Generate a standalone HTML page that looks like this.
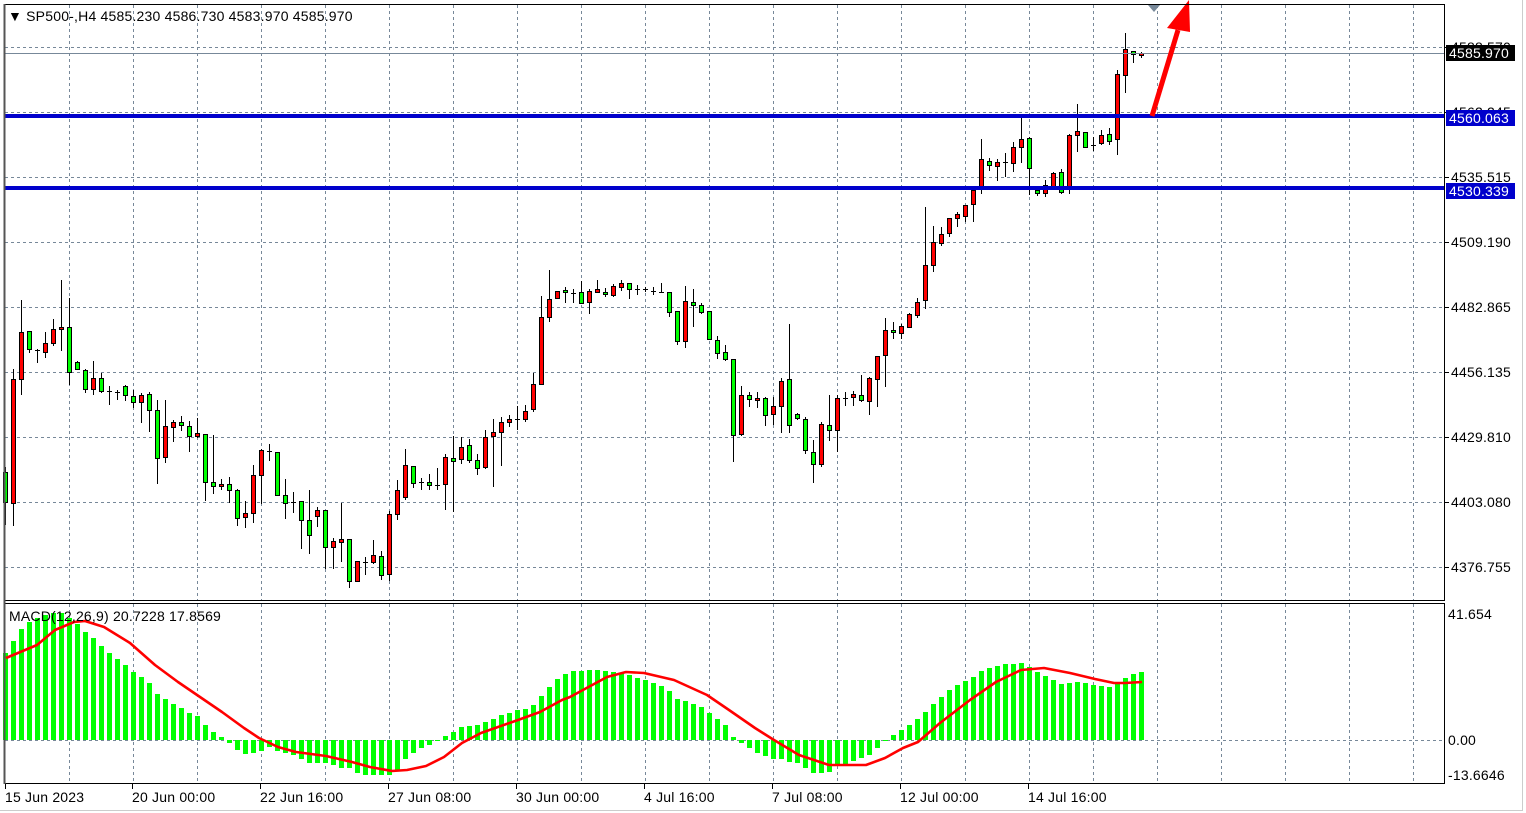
<!DOCTYPE html>
<html><head><meta charset="utf-8"><style>
html,body{margin:0;padding:0;background:#fff;width:1526px;height:813px;overflow:hidden}
svg{display:block}
text{font-family:"Liberation Sans","DejaVu Sans",sans-serif;font-size:14px;letter-spacing:0.2px;fill:#000}
</style></head><body>
<svg id="s" width="1526" height="813" xmlns="http://www.w3.org/2000/svg">
<rect x="0" y="0" width="1526" height="813" fill="#fff"/>
<line x1="1522.5" y1="0" x2="1522.5" y2="811" stroke="#ccc"/>
<line x1="0" y1="810.5" x2="1523" y2="810.5" stroke="#ccc"/>
<g id="grid"></g>
<g id="hist"></g>
<g id="candles"></g>
<polyline id="sig" fill="none" stroke="#ff0000" stroke-width="2.6" stroke-linejoin="round"/>
<line x1="5" y1="53.5" x2="1445" y2="53.5" stroke="#778899" stroke-width="1"/>
<rect x="5" y="114" width="1440" height="4" fill="#0000cc"/>
<rect x="5" y="186" width="1440" height="4" fill="#0000cc"/>
<polygon points="1148,5 1160,5 1154,12" fill="#778899"/>
<line x1="1152" y1="116" x2="1178" y2="30" stroke="#ff0000" stroke-width="5"/>
<polygon points="1167,28 1190,32 1189,0" fill="#ff0000"/>
<rect x="4.5" y="4.5" width="1440" height="596" fill="none" stroke="#000"/>
<rect x="4.5" y="603.5" width="1440" height="180" fill="none" stroke="#000"/>
<line x1="4.5" y1="4" x2="4.5" y2="784" stroke="#555" stroke-width="2"/>
<g id="labels"></g>
<text x="8" y="21">▼ SP500-,H4  4585.230 4586.730 4583.970 4585.970</text>
<text x="9" y="621">MACD(12,26,9) 20.7228 17.8569</text>
<rect x="1446" y="45" width="69" height="16" fill="#000"/>
<text x="1449" y="58" style="fill:#fff">4585.970</text>
<rect x="1446" y="110" width="69" height="16" fill="#0000cc"/>
<text x="1449" y="123" style="fill:#fff">4560.063</text>
<rect x="1446" y="183" width="69" height="16" fill="#0000cc"/>
<text x="1449" y="196" style="fill:#fff">4530.339</text>
</svg>
<script>
var NS="http://www.w3.org/2000/svg";
function el(p,t,a,txt){var e=document.createElementNS(NS,t);for(var k in a)e.setAttribute(k,a[k]);if(txt!==undefined)e.textContent=txt;document.getElementById(p).appendChild(e);return e;}
for(var x=69;x<=1413;x+=64){
 el("grid","line",{x1:x+.5,y1:5,x2:x+.5,y2:600,stroke:"#778899","stroke-dasharray":"3,3"});
 el("grid","line",{x1:x+.5,y1:604,x2:x+.5,y2:783,stroke:"#778899","stroke-dasharray":"3,3"});
}
var hy=[47,112,177,242,307,372,437,502,567];
var hl=["4588.570","4562.245","4535.515","4509.190","4482.865","4456.135","4429.810","4403.080","4376.755"];
for(var i=0;i<hy.length;i++){
 el("grid","line",{x1:5,y1:hy[i]+.5,x2:1444,y2:hy[i]+.5,stroke:"#778899","stroke-dasharray":"3,3"});
 el("labels","line",{x1:1445,y1:hy[i]+.5,x2:1449,y2:hy[i]+.5,stroke:"#000"});
 el("labels","text",{x:1451,y:hy[i]+5},hl[i]);
}
el("grid","line",{x1:5,y1:740.5,x2:1444,y2:740.5,stroke:"#778899","stroke-dasharray":"3,3"});
el("labels","text",{x:1448,y:619},"41.654");
el("labels","text",{x:1448,y:745},"0.00");
el("labels","text",{x:1448,y:780},"-13.6646");
var dl=[[5,"15 Jun 2023"],[132,"20 Jun 00:00"],[260,"22 Jun 16:00"],[388,"27 Jun 08:00"],[516,"30 Jun 00:00"],[644,"4 Jul 16:00"],[772,"7 Jul 08:00"],[900,"12 Jul 00:00"],[1028,"14 Jul 16:00"]];
dl.forEach(function(d){el("labels","text",{x:d[0],y:802},d[1]);el("labels","line",{x1:d[0]+.5,y1:784,x2:d[0]+.5,y2:789,stroke:"#000"});});
var C=[[472,502,467,525,'g'],[379,503,369,526,'r'],[332,379,300,395,'r'],[331,349,331,353,'g'],[350,350,349,363,'d'],[343,352,332,358,'r'],[329,343,319,346,'r'],[327,329,280,351,'r'],[327,372,298,385,'g'],[362,369,361,370,'g'],
[370,389,369,393,'g'],[378,389,361,395,'r'],[378,391,373,393,'g'],[391,392,386,405,'d'],[392,392,390,400,'d'],[386,395,385,401,'g'],[396,402,390,408,'g'],[395,402,393,423,'r'],[394,410,392,432,'g'],[410,458,400,484,'g'],
[426,457,400,463,'r'],[422,427,420,442,'r'],[422,425,416,431,'g'],[426,436,421,452,'g'],[433,436,418,438,'r'],[434,482,434,501,'g'],[482,486,435,494,'g'],[484,486,479,490,'r'],[484,490,477,503,'g'],[490,518,489,526,'g'],
[513,517,501,528,'r'],[475,513,465,523,'r'],[450,475,449,504,'r'],[451,451,444,461,'d'],[452,495,452,496,'g'],[495,503,479,519,'g'],[502,502,492,513,'d'],[501,520,501,549,'g'],[520,535,490,554,'g'],[510,516,507,527,'r'],
[510,547,510,569,'g'],[541,547,538,569,'r'],[539,542,503,562,'r'],[539,581,539,588,'g'],[561,581,561,582,'r'],[562,562,557,575,'d'],[555,562,540,564,'r'],[556,575,551,580,'g'],[514,574,511,581,'r'],[490,514,480,520,'r'],
[465,497,449,500,'r'],[466,483,466,488,'g'],[482,482,478,490,'d'],[482,485,474,490,'g'],[485,485,468,490,'d'],[457,484,454,510,'r'],[458,461,436,512,'g'],[447,459,437,464,'r'],[445,460,439,463,'g'],[460,468,454,475,'g'],
[437,467,430,469,'r'],[432,436,419,487,'r'],[422,432,417,466,'r'],[419,422,415,427,'r'],[419,419,406,430,'d'],[411,419,405,422,'r'],[384,409,373,412,'r'],[317,384,296,384,'r'],[299,317,270,322,'r'],[291,298,291,298,'r'],
[290,292,287,303,'g'],[293,293,289,303,'d'],[292,303,281,303,'g'],[291,302,289,314,'r'],[289,292,280,293,'r'],[292,294,288,297,'g'],[286,295,284,297,'r'],[283,287,280,291,'r'],[283,289,283,299,'g'],[289,289,285,295,'d'],
[289,289,287,292,'d'],[291,291,287,295,'d'],[292,292,283,293,'d'],[292,312,292,317,'g'],[311,341,311,345,'g'],[301,341,286,348,'r'],[302,305,289,327,'g'],[305,312,303,314,'g'],[311,339,311,340,'g'],[340,353,336,359,'g'],
[352,359,345,361,'g'],[359,435,359,462,'g'],[395,434,386,436,'r'],[395,399,392,407,'g'],[398,400,392,408,'r'],[398,415,397,426,'g'],[406,414,397,425,'r'],[381,406,378,433,'r'],[379,425,324,433,'g'],[414,418,413,420,'g'],
[419,450,417,454,'g'],[452,464,440,483,'g'],[424,464,422,467,'r'],[425,430,395,441,'g'],[398,430,395,452,'r'],[398,398,392,406,'d'],[394,397,391,406,'r'],[395,400,375,402,'g'],[378,401,377,415,'r'],[356,379,356,407,'r'],
[330,355,318,387,'r'],[330,332,322,339,'g'],[326,333,324,339,'r'],[314,327,313,328,'r'],[302,315,298,318,'r'],[265,300,207,309,'r'],[242,265,226,272,'r'],[234,243,227,246,'r'],[218,233,218,237,'r'],[214,218,212,227,'r'],
[205,216,205,222,'r'],[190,204,186,222,'r'],[159,187,139,194,'r'],[161,165,158,171,'g'],[162,166,159,181,'r'],[162,162,153,177,'d'],[147,163,142,172,'r'],[139,147,117,163,'r'],[138,168,137,195,'g'],[190,193,190,196,'g'],
[185,193,180,197,'r'],[173,186,172,188,'r'],[172,192,169,194,'g'],[135,187,134,194,'r'],[131,135,104,152,'r'],[132,147,132,148,'g'],[145,145,137,151,'d'],[135,143,130,145,'r'],[134,141,128,145,'g'],[74,139,70,155,'r'],
[49,75,33,93,'r'],[51,54,51,63,'g'],[53,55,52,58,'r']];
function bx(i){return Math.round(5.3+8*i);}
C.forEach(function(c,i){
 var x=bx(i);
 el("candles","line",{x1:x+.5,y1:c[2],x2:x+.5,y2:c[3],stroke:"#000"});
 if(c[4]=='d'||c[1]-c[0]<1){el("candles","line",{x1:x-2,y1:c[0]+.5,x2:x+3,y2:c[0]+.5,stroke:"#000"});}
 else el("candles","rect",{x:x-1.5,y:c[0]+.5,width:4,height:c[1]-c[0],fill:c[4]=='r'?"#ff0000":"#00ff00",stroke:"#000"});
});
var H=[653,641,629,622,618,615,613,613,618,624,632,638,646,653,659,665,672,677,683,694,699,704,708,713,716,725,732,737,743,750,754,753,751,747,751,753,755,759,763,763,763,765,768,768,773,775,775,775,775,770,759,753,748,745,741,736,732,727,726,725,722,719,715,713,710,709,705,696,687,679,674,671,671,670,670,671,672,673,675,678,680,683,686,691,699,701,704,707,713,719,725,737,743,748,753,756,759,759,762,763,768,773,773,772,765,764,761,758,755,748,741,735,730,725,719,712,704,697,690,685,681,677,671,668,666,664,664,663,667,672,676,680,684,683,682,683,685,686,687,683,678,674,672];
H.forEach(function(h,i){var x=bx(i);var t=Math.min(h,740),b=Math.max(h,740);el("hist","rect",{x:x-2,y:t,width:5,height:Math.max(1,b-t),fill:"#00ff00"});});
var S=[[6,658],[37,645],[55,630],[74,622],[85,621],[104,627],[130,643],[155,665],[178,682],[200,697],[222,712],[244,728],[259,738],[278,747],[296,752],[326,756],[352,762],[370,767],[392,771],[407,770],[426,766],[444,757],[462,743],[481,733],[518,720],[540,712],[562,700],[570,697],[607,677],[626,672],[644,673],[674,680],[707,695],[729,710],[755,728],[774,740],[799,755],[829,765],[866,765],[885,758],[903,748],[918,742],[940,723],[970,700],[996,682],[1021,670],[1044,668],[1070,673],[1095,679],[1114,683],[1125,683],[1142,682]];
document.getElementById("sig").setAttribute("points",S.map(function(p){return p.join(",");}).join(" "));
</script>
</body></html>
